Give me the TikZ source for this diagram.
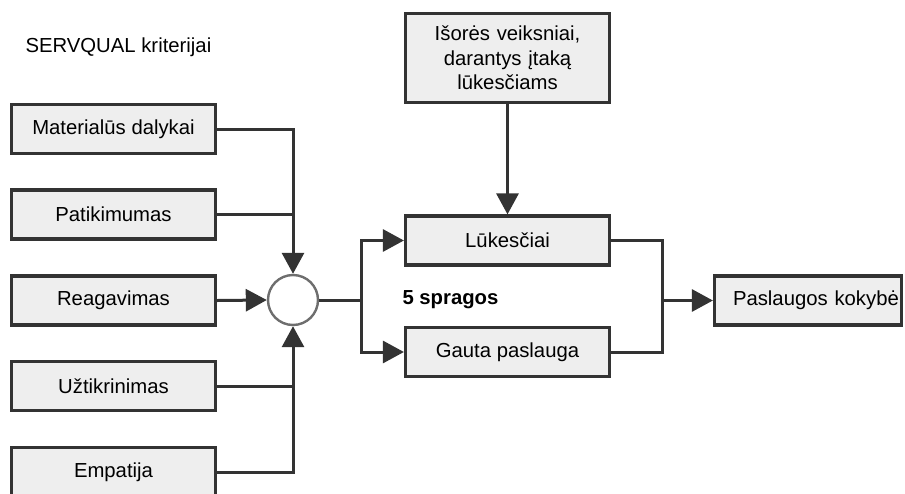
\documentclass[tikz,border=0pt]{standalone}
\usepackage{fontspec}
\setmainfont{Liberation Sans}
\usetikzlibrary{arrows.meta}
\definecolor{boxfill}{HTML}{EEEEEE}
\definecolor{edge}{HTML}{333333}
\definecolor{ring}{HTML}{6E6E6E}
\tikzset{
  box/.style={draw=edge, line width=3.2pt, fill=boxfill, minimum width=204pt, minimum height=49pt, inner sep=0pt, font=\fontsize{20.3}{24}\selectfont, text=black, align=center},
  conn/.style={draw=edge, line width=3pt},
  arr/.style={conn, -{Triangle[length=21pt,width=22pt]}},
}
\begin{document}
\begin{tikzpicture}[x=1pt,y=-1pt]
\useasboundingbox (0,0) rectangle (905,493);
\clip (0,0) rectangle (905,493);
\node[anchor=west, font=\fontsize{20.3}{24}\selectfont] (title) at (22,47) {SERVQUAL kriterijai};
\node[box] (m) at (113.5,129) {Materialūs dalykai};
\node[box] (p) at (113.5,214.5) {Patikimumas};
\node[box] (r) at (113.5,300.5) {Reagavimas};
\node[box] (u) at (113.5,386) {Užtikrinimas};
\node[box] (e) at (113.5,472) {Empatija};
\node[circle, draw=ring, line width=2.4pt, fill=white, minimum size=50pt, inner sep=0pt] (c) at (293,300) {};
\node[box, minimum height=89pt, text width=200pt, font=\fontsize{20.3}{24.5}\selectfont] (x) at (507.5,58) {Išorės veiksniai,\\darantys įtaką\\lūkesčiams};
\node[box] (l) at (507.5,240.5) {Lūkesčiai};
\node[box] (g) at (507.5,352) {Gauta paslauga};
\node[box, minimum width=187pt, text width=185pt, align=left] (k) at (808,300.5) {\hspace*{17.5pt}Paslaugos kokybė};
\node[anchor=west, font=\fontsize{20.3}{24}\selectfont\bfseries] (gap) at (399,300) {5 spragos};
\coordinate (split) at (361,300);
\coordinate (join) at (662,300.5);
\draw[arr] (m.east) -| (c.north);
\draw[conn] (p.east) -- (p.east -| c.north);
\draw[arr] (r.east) -- (c.west);
\draw[conn] (u.east) -- (u.east -| c.south);
\draw[arr] (e.east) -| (c.south);
\draw[conn] (c.east) -- (split);
\draw[arr] (split) |- (l.west);
\draw[arr] (split) |- (g.west);
\draw[arr] (x.south) -- (l.north);
\draw[conn] (l.east) -| (join) |- (g.east);
\draw[arr] (join) -- (k.west);
\end{tikzpicture}
\end{document}
